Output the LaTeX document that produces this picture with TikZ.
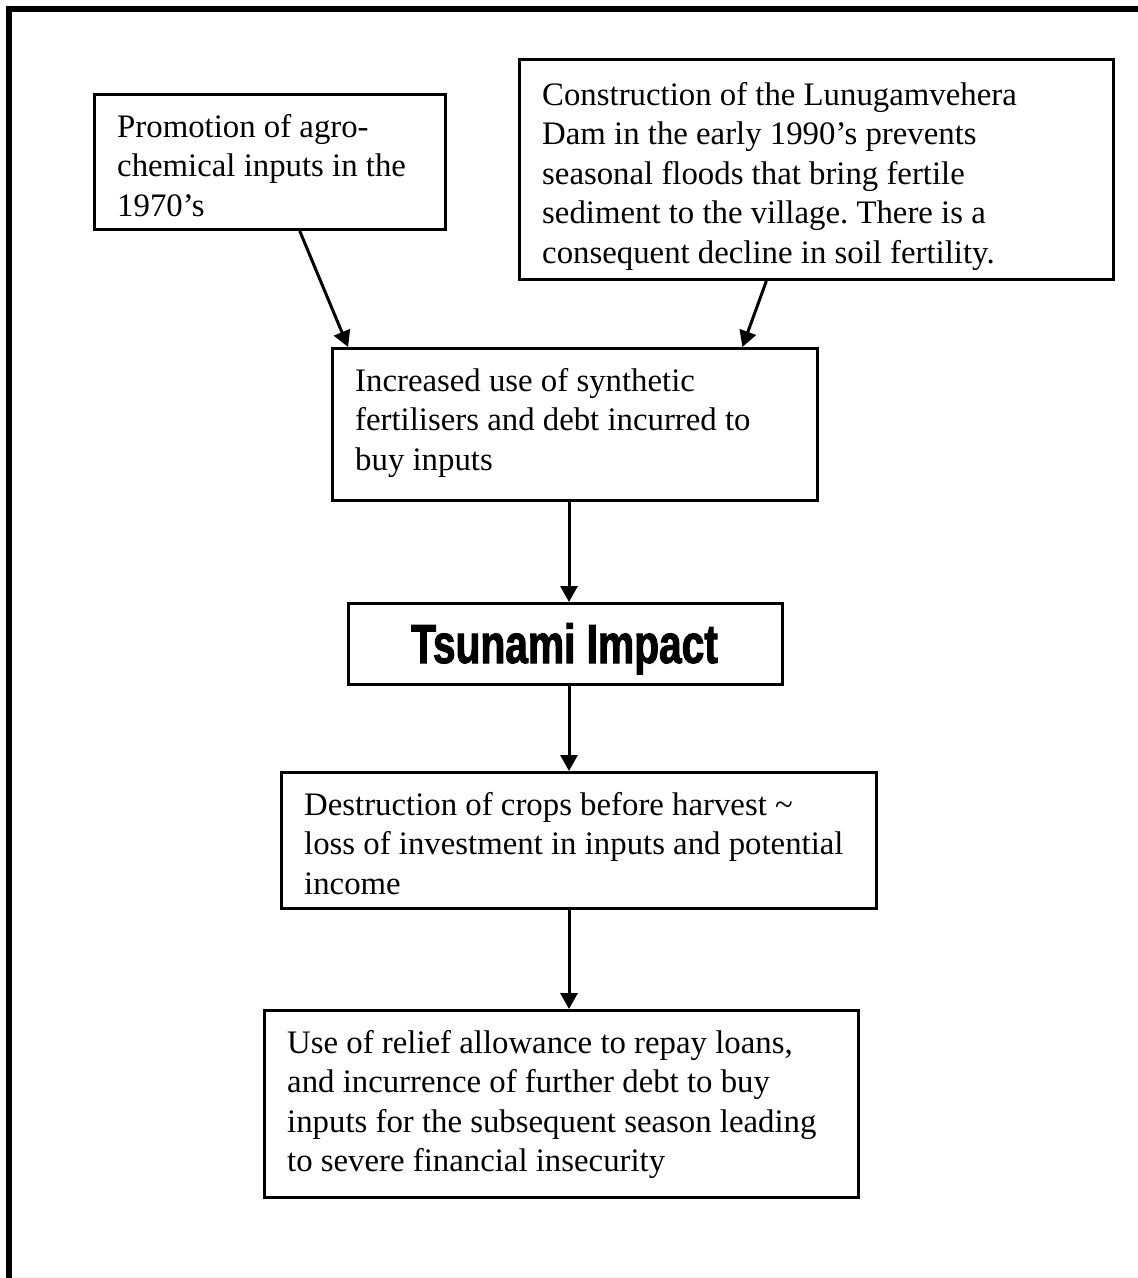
\documentclass[tikz,border=0pt]{standalone}
\usepackage{fontspec}
\setmainfont{Liberation Serif}
\newfontfamily\impactfont[FakeStretch=0.74,BoldFeatures={FakeBold=1.8}]{Liberation Sans}
\usetikzlibrary{arrows.meta,calc}
\tikzset{
  boxr/.style={draw, line width=3bp, rectangle, inner sep=0pt, anchor=north west},
  txt/.style={anchor=north west, inner sep=0pt, align=left, font=\fontsize{32.8bp}{39.5bp}\selectfont\frenchspacing},
  arr/.style={line width=3bp, -{Triangle[length=16bp,width=17bp]}},
}
\newcommand{\fs}{\rule{0pt}{24bp}}
\begin{document}
\begin{tikzpicture}[x=1bp,y=-1bp]
\useasboundingbox (0,0) rectangle (1138,1278);
% outer frame (cropped at right and bottom)
\draw[line width=6bp] (8.5,1290) -- (8.5,8.5) -- (1150,8.5);
\draw[gray!12, line width=1bp] (12,1277) -- (1138,1277);

% boxes
\node[boxr, minimum width=351bp, minimum height=135bp] (b1) at (93,93) {};
\node[boxr, minimum width=594bp, minimum height=220bp] (b2) at (518,58) {};
\node[boxr, minimum width=485bp, minimum height=152bp] (b3) at (331,347) {};
\node[boxr, minimum width=434bp, minimum height=81bp] (b4) at (347,602) {};
\node[boxr, minimum width=595bp, minimum height=136bp] (b5) at (280,771) {};
\node[boxr, minimum width=594bp, minimum height=187bp] (b6) at (263,1009) {};

% texts
\node[txt] (t1) at (117,113) {\fs Promotion of agro-\\chemical inputs in the\\1970’s};
\node[txt] (t2) at (542,81) {\fs Construction of the Lunugamvehera\\Dam in the early 1990’s prevents\\seasonal floods that bring fertile\\sediment to the village. There is a\\consequent decline in soil fertility.};
\node[txt] (t3) at (355,367) {\fs Increased use of synthetic\\fertilisers and debt incurred to\\buy inputs};
\node[anchor=base, inner sep=0pt, font=\impactfont\bfseries\fontsize{55bp}{60bp}\selectfont] (t4) at (564.5,663) {Tsunami Impact};
\node[txt] (t5) at (304,791) {\fs Destruction of crops before harvest \textasciitilde\\loss of investment in inputs and potential\\income};
\node[txt] (t6) at (287,1029) {\fs Use of relief allowance to repay loans,\\and incurrence of further debt to buy\\inputs for the subsequent season leading\\to severe financial insecurity};

% connectors
\coordinate (ax) at (569,0);
\draw[arr] ($(b1.south west)!0.584!(b1.south east)$) -- ($(b3.north west)!0.035!(b3.north east)$);
\draw[arr] ($(b2.south west)!0.416!(b2.south east)$) -- ($(b3.north west)!0.843!(b3.north east)$);
\draw[arr] (b3.south -| ax) -- (b4.north -| ax);
\draw[arr] (b4.south -| ax) -- (b5.north -| ax);
\draw[arr] (b5.south -| ax) -- (b6.north -| ax);
\end{tikzpicture}
\end{document}
